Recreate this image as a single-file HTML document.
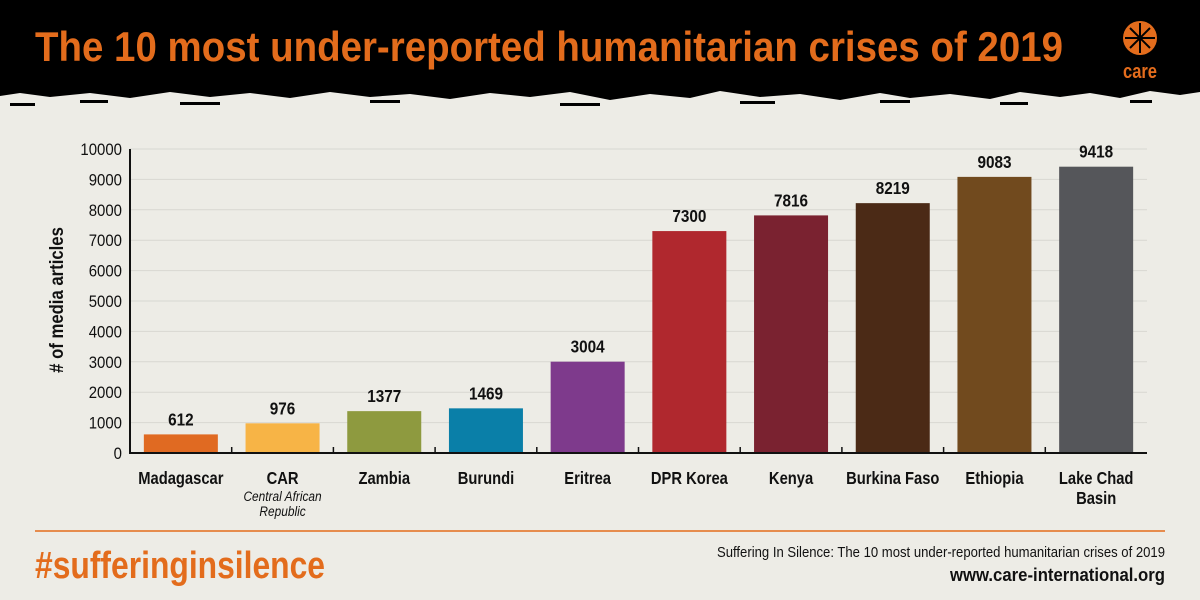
<!DOCTYPE html>
<html><head><meta charset="utf-8"><style>
html,body{margin:0;padding:0;background:#edece6;}
svg{display:block;font-family:"Liberation Sans Narrow","Liberation Sans",sans-serif;}
</style></head><body>
<svg id="chart" width="1200" height="600" viewBox="0 0 1200 600">
<rect width="1200" height="600" fill="#edece6"/>
<g>
<path d="M0 0H1200V92 L1180 95 1150 91 1120 98 1090 93 1060 97 1020 92 990 99 950 94 910 98 880 93 840 100 800 94 760 97 720 91 690 98 650 94 610 100 570 92 530 97 490 93 450 99 410 94 370 97 330 92 290 98 250 93 210 97 170 92 130 98 90 93 50 97 20 93 0 96Z" fill="#000"/>
<rect x="10" y="103" width="25" height="3" fill="#000"/><rect x="80" y="100" width="28" height="3" fill="#000"/><rect x="180" y="102" width="40" height="3" fill="#000"/><rect x="370" y="100" width="30" height="3" fill="#000"/>
<rect x="560" y="103" width="40" height="3" fill="#000"/><rect x="740" y="101" width="35" height="3" fill="#000"/><rect x="880" y="100" width="30" height="3" fill="#000"/><rect x="1000" y="102" width="28" height="3" fill="#000"/><rect x="1130" y="100" width="22" height="3" fill="#000"/>
</g>
<text x="35" y="61" font-size="42" font-weight="bold" fill="#e36c1c" textLength="1028" lengthAdjust="spacingAndGlyphs">The 10 most under-reported humanitarian crises of 2019</text>
<g>
<circle cx="1140" cy="38" r="17" fill="#e36c1c"/>
<path d="M1130 28 L1150 48 M1150 28 L1130 48 M1140 23 V53 M1125 38 H1155" stroke="#000" stroke-width="2"/>
<text x="1140" y="78" font-size="20" font-weight="bold" fill="#e36c1c" text-anchor="middle" textLength="34" lengthAdjust="spacingAndGlyphs">care</text>
</g>
<g id="grid"></g>
<g id="bars"></g>
<g id="axes"></g>
<text transform="translate(63,300) rotate(-90) scale(0.88,1)" font-size="19" font-weight="bold" fill="#111" text-anchor="middle"># of media articles</text>
<line x1="35" y1="531" x2="1165" y2="531" stroke="#e36c1c" stroke-width="1.5"/>
<text x="35" y="578" font-size="38" font-weight="bold" fill="#e36c1c" textLength="290" lengthAdjust="spacingAndGlyphs">#sufferinginsilence</text>
<text x="1165" y="557" font-size="15" fill="#111" text-anchor="end" textLength="448" lengthAdjust="spacingAndGlyphs">Suffering In Silence: The 10 most under-reported humanitarian crises of 2019</text>
<text x="1165" y="581" font-size="18" font-weight="bold" fill="#111" text-anchor="end" textLength="215" lengthAdjust="spacingAndGlyphs">www.care-international.org</text>
</svg>
<script>
const categories=["Madagascar","CAR","Zambia","Burundi","Eritrea","DPR Korea","Kenya","Burkina Faso","Ethiopia","Lake Chad"];
const subLabels=["","","","","","","","","","Basin"];
const values=[612,976,1377,1469,3004,7300,7816,8219,9083,9418];
const colors=["#e06a22","#f7b446","#8e9a3f","#0a7fa8","#7e3a8c","#b0282e","#7a2230","#4b2a16","#714a1e","#55565a"];
const yTicks=[0,1000,2000,3000,4000,5000,6000,7000,8000,9000,10000];
const NS="http://www.w3.org/2000/svg";
const x0=130,x1=1147,y0=453,y1=149,yMax=10000;
const step=(x1-x0)/categories.length;
function yScale(v){return y0-(v/yMax)*(y0-y1);}
function xCenter(i){return x0+step*(i+0.5);}
function mk(tag,attrs,parent,text){const e=document.createElementNS(NS,tag);for(const k in attrs)e.setAttribute(k,attrs[k]);if(text!==undefined)e.textContent=text;parent.appendChild(e);return e;}
function txt(x,y,attrs,parent,text,sx){attrs.transform='translate('+x+','+y+') scale('+sx+',1)';attrs.x=0;attrs.y=0;return mk('text',attrs,parent,text);}
const grid=document.getElementById('grid'),bars=document.getElementById('bars'),axes=document.getElementById('axes');
yTicks.forEach(t=>{
  const y=yScale(t);
  if(t>0){const l=mk('line',{x1:x0,x2:x1,y1:y,y2:y,stroke:'#d8d7d1','stroke-width':1},grid);
  
  }
  const tx=txt(122,y+6,{'font-size':17,'text-anchor':'end',fill:'#111'},axes,String(t),0.88);
  
  
});
values.forEach((v,i)=>{
  const cx=xCenter(i),w=74,y=yScale(v);
  const r=mk('rect',{x:cx-w/2,y:y,width:w,height:y0-y,fill:colors[i]},bars);
  
  
  const vl=txt(cx,y-9,{'font-size':18,'font-weight':'bold','text-anchor':'middle',fill:'#111'},bars,String(v),0.85);
  
  
  const cl=txt(cx,484,{'font-size':18,'font-weight':'bold','text-anchor':'middle',fill:'#111'},axes,categories[i],0.82);
  
  
  if(subLabels[i]){const s=txt(cx,504,{'font-size':18,'font-weight':'bold','text-anchor':'middle',fill:'#111'},axes,subLabels[i],0.82);
  
  }
  if(i>0){const tk=mk('line',{x1:x0+step*i,x2:x0+step*i,y1:y0-6,y2:y0,stroke:'#111','stroke-width':1.5},axes);
  
  }
});
const sub1=txt(xCenter(1),501,{'font-size':14,'font-style':'italic','text-anchor':'middle',fill:'#111'},axes,'Central African',0.85);


const sub2=txt(xCenter(1),516,{'font-size':14,'font-style':'italic','text-anchor':'middle',fill:'#111'},axes,'Republic',0.85);


const ya=mk('line',{x1:x0,x2:x0,y1:y1,y2:y0,stroke:'#111','stroke-width':2},axes);


const xa=mk('line',{x1:x0-1,x2:x1,y1:y0,y2:y0,stroke:'#111','stroke-width':2},axes);


</script>
</body></html>
